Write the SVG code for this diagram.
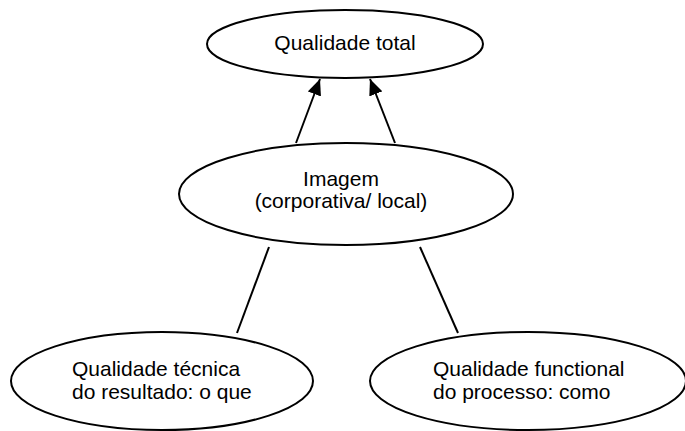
<svg xmlns="http://www.w3.org/2000/svg" width="685" height="431" viewBox="0 0 685 431">
<style>
.n{fill:#fff;stroke:#000;stroke-width:2}
.t{font-family:"Liberation Sans",Arial,sans-serif;font-size:21px;fill:#000}
.c{stroke:#000;stroke-width:2;fill:none}
</style>
<defs>
<marker id="ah" markerUnits="userSpaceOnUse" markerWidth="18" markerHeight="14" refX="16" refY="7" orient="auto">
<path d="M0,0 L16,7 L0,14 Z" fill="#000"/>
</marker>
</defs>
<rect width="685" height="431" fill="#fff"/>
<g id="connectors">
<line class="c" x1="296" y1="143" x2="320" y2="79" marker-end="url(#ah)"/>
<line class="c" x1="395" y1="143" x2="370" y2="79" marker-end="url(#ah)"/>
<line class="c" x1="269" y1="247" x2="237" y2="333"/>
<line class="c" x1="420" y1="247" x2="458" y2="333"/>
</g>
<g id="qualidade-total">
<ellipse class="n" cx="345" cy="44" rx="138" ry="34"/>
<text class="t" x="345" y="50" text-anchor="middle">Qualidade total</text>
</g>
<g id="imagem">
<ellipse class="n" cx="346" cy="194" rx="167" ry="51"/>
<text class="t" x="341" y="186" text-anchor="middle">Imagem</text>
<text class="t" x="341" y="208" text-anchor="middle">(corporativa/ local)</text>
</g>
<g id="qualidade-tecnica">
<ellipse class="n" cx="162" cy="381" rx="151" ry="49"/>
<text class="t" x="72" y="376">Qualidade técnica</text>
<text class="t" x="72" y="399">do resultado: o que</text>
</g>
<g id="qualidade-funcional">
<ellipse class="n" cx="528" cy="381" rx="158" ry="49"/>
<text class="t" x="433" y="376">Qualidade functional</text>
<text class="t" x="433" y="399">do processo: como</text>
</g>
</svg>
